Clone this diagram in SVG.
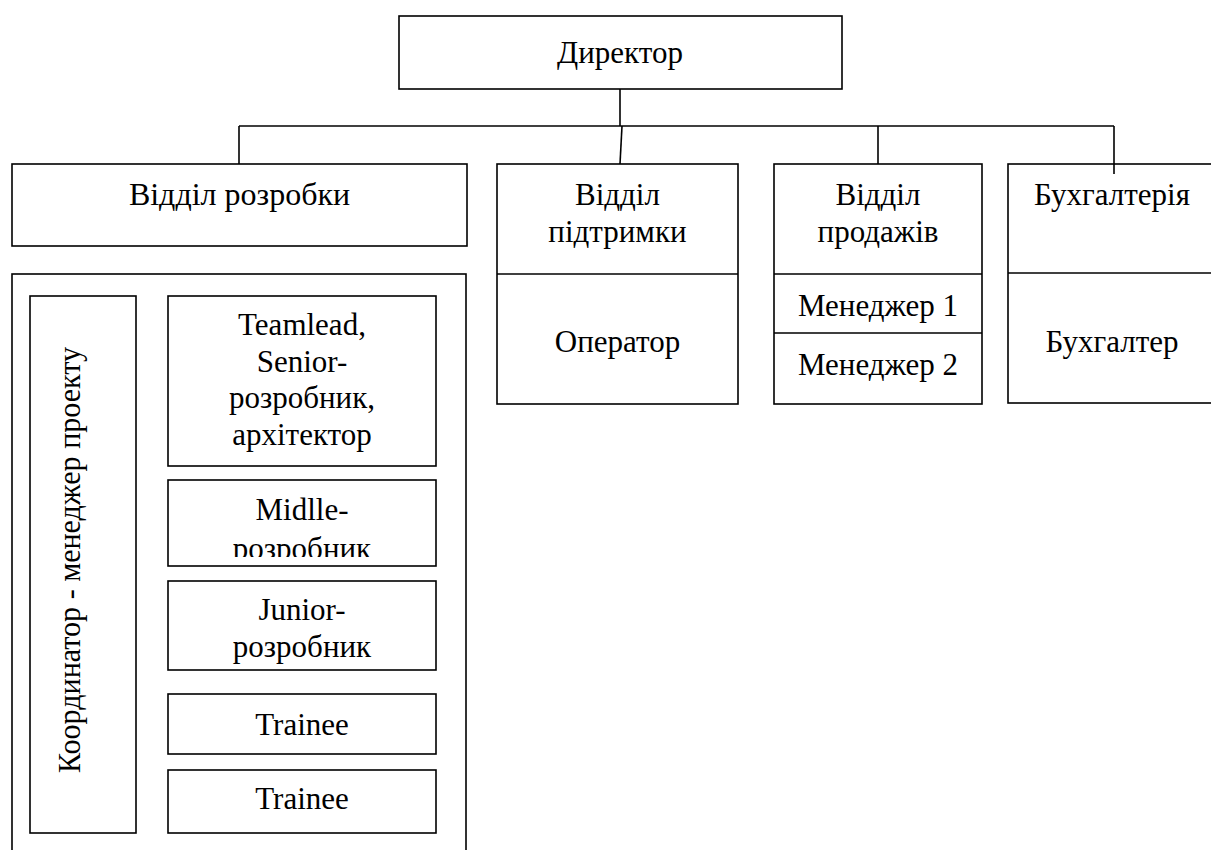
<svg xmlns="http://www.w3.org/2000/svg" width="1211" height="850" viewBox="0 0 1211 850">
<defs>
<style>
.b{fill:#fff;stroke:#000;stroke-width:1.6}
.l{fill:none;stroke:#000;stroke-width:1.6}
.t{font-family:"Liberation Serif","Times New Roman",serif;font-size:31px;fill:#000;text-anchor:middle}
</style>
<clipPath id="midClip"><rect x="168" y="480" width="268" height="77"/></clipPath>
</defs>
<rect x="0" y="0" width="1211" height="850" fill="#fff"/>
<g id="connectors">
<path class="l" d="M620 89V126"/>
<path class="l" d="M239 126H1114"/>
<path class="l" d="M239 126V164"/>
<path class="l" d="M622 126L620 164"/>
<path class="l" d="M878 126V164"/>
<path class="l" d="M1114 126V174"/>
</g>
<g id="director">
<rect class="b" x="399" y="16" width="443" height="73"/>
<text class="t" x="620" y="63">Директор</text>
</g>
<g id="dev-dept">
<rect class="b" x="12" y="164" width="455" height="82"/>
<text class="t" x="239.5" y="205" style="font-size:32px">Відділ розробки</text>
</g>
<g id="support-dept">
<rect class="b" x="497" y="164" width="241" height="240"/>
<path class="l" d="M497 274H738"/>
<text class="t" x="617.5" y="205">Відділ</text>
<text class="t" x="617.5" y="242">підтримки</text>
<text class="t" x="617.5" y="352">Оператор</text>
</g>
<g id="sales-dept">
<rect class="b" x="774" y="164" width="208" height="240"/>
<path class="l" d="M774 274H982M774 333H982"/>
<text class="t" x="878" y="205">Відділ</text>
<text class="t" x="878" y="242">продажів</text>
<text class="t" x="878" y="316">Менеджер 1</text>
<text class="t" x="878" y="375">Менеджер 2</text>
</g>
<g id="accounting">
<rect class="b" x="1008" y="164" width="210" height="239"/>
<path class="l" d="M1008 273H1218"/>
<path class="l" d="M1114 164V174"/>
<text class="t" x="1112" y="205">Бухгалтерія</text>
<text class="t" x="1112" y="352">Бухгалтер</text>
</g>
<g id="dev-container">
<rect class="b" x="12" y="274" width="454" height="600"/>
</g>
<g id="coordinator">
<rect class="b" x="30" y="296" width="106" height="537"/>
<text class="t" transform="translate(80 560) rotate(-90)" textLength="426" lengthAdjust="spacingAndGlyphs">Координатор - менеджер проекту</text>
</g>
<g id="teamlead">
<rect class="b" x="168" y="296" width="268" height="170"/>
<text class="t" x="302" y="335">Teamlead,</text>
<text class="t" x="302" y="372">Senior-</text>
<text class="t" x="302" y="408">розробник,</text>
<text class="t" x="302" y="445">архітектор</text>
</g>
<g id="middle">
<rect class="b" x="168" y="480" width="268" height="86"/>
<g clip-path="url(#midClip)">
<text class="t" x="302" y="520">Midlle-</text>
<text class="t" x="302" y="559">розробник</text>
</g>
</g>
<g id="junior">
<rect class="b" x="168" y="581" width="268" height="89"/>
<text class="t" x="302" y="620">Junior-</text>
<text class="t" x="302" y="657">розробник</text>
</g>
<g id="trainee1">
<rect class="b" x="168" y="694" width="268" height="60"/>
<text class="t" x="302" y="735">Trainee</text>
</g>
<g id="trainee2">
<rect class="b" x="168" y="770" width="268" height="63"/>
<text class="t" x="302" y="809">Trainee</text>
</g>
</svg>
